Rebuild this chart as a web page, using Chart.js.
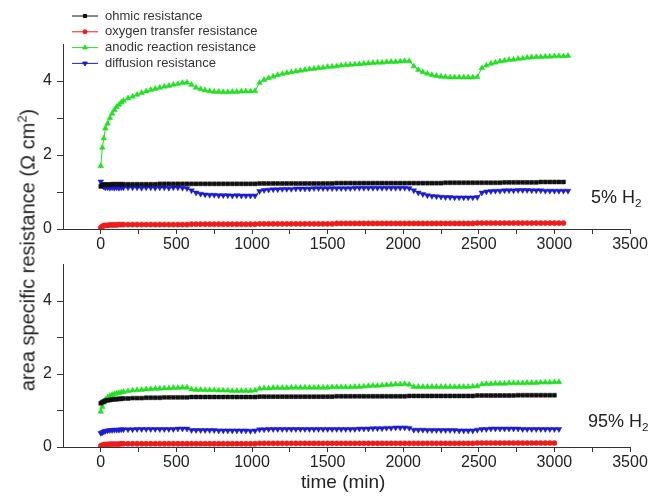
<!DOCTYPE html>
<html>
<head>
<meta charset="utf-8">
<script src="https://cdn.jsdelivr.net/npm/chart.js@4.4.1/dist/chart.umd.min.js"></script>
<style>
  body { margin: 0; background: #fff; font-family: "Liberation Sans", Arial, sans-serif; }
  #wrap { position: relative; width: 653px; height: 499px; overflow: hidden; }
  canvas { position: absolute; left: 0; }
  .lbl { position: absolute; color: #222; white-space: nowrap; }
  .lbl sub { font-size: 65%; vertical-align: -0.35em; }
  .lbl sup { font-size: 65%; vertical-align: 0.6em; line-height: 0; }
</style>
</head>
<body>
<div id="wrap">
  <canvas id="topChart" width="653" height="250" style="top:0"></canvas>
  <canvas id="botChart" width="653" height="249" style="top:250px"></canvas>
  <div class="lbl" id="yTitle" style="font-size:20px; left:28px; top:250px; transform: translate(-50%, -50%) rotate(-90deg);">area specific resistance (&Omega; cm<sup>2</sup>)</div>
  <div class="lbl" style="font-size:19px; left:301px; top:471px;">time (min)</div>
  <div class="lbl" style="font-size:18px; left:591px; top:187px;">5% H<sub>2</sub></div>
  <div class="lbl" style="font-size:18px; left:588px; top:411px;">95% H<sub>2</sub></div>
</div>
<script>
/*******************************************************
 * data
 *******************************************************/
const seriesNames = ["ohmic resistance", "oxygen transfer resistance", "anodic reaction resistance", "diffusion resistance"];
const xTicks = [0, 500, 1000, 1500, 2000, 2500, 3000, 3500];
const yTicks = [0, 2, 4];

const timesTop = [0,10,20,30,45,60,75,90,105,120,135,150,
  180,210,240,270,300,330,360,390,420,450,480,510,540,570,
  600,630,660,690,720,750,780,810,840,870,900,930,960,990,1020,
  1050,1080,1110,1140,1170,1200,1230,1260,1290,1320,1350,1380,1410,1440,1470,1500,1530,1560,1590,1620,1650,1680,1710,1740,1770,1800,1830,1860,1890,1920,1950,1980,2010,2040,
  2070,2100,2130,2160,2190,2220,2250,2280,2310,2340,2370,2400,2430,2460,2490,
  2520,2550,2580,2610,2640,2670,2700,2730,2760,2790,2820,2850,2880,2910,2940,2970,3000,3030,3060,3090];

const timesBot = [0,10,20,30,45,60,75,90,105,120,135,150,
  180,210,240,270,300,330,360,390,420,450,480,510,540,570,
  600,630,660,690,720,750,780,810,840,870,900,930,960,990,1020,
  1050,1080,1110,1140,1170,1200,1230,1260,1290,1320,1350,1380,1410,1440,1470,1500,1530,1560,1590,1620,1650,1680,1710,1740,1770,1800,1830,1860,1890,1920,1950,1980,2010,2040,
  2070,2100,2130,2160,2190,2220,2250,2280,2310,2340,2370,2400,2430,2460,2490,
  2520,2550,2580,2610,2640,2670,2700,2730,2760,2790,2820,2850,2880,2910,2940,2970,3000,3030];

// 5% H2 panel
const ohmicTop = [1.15,1.19,1.20,1.20,1.20,1.20,1.21,1.21,1.21,1.21,1.21,1.21,
  1.21,1.21,1.21,1.21,1.21,1.21,1.21,1.22,1.22,1.22,1.22,1.22,1.22,1.22,
  1.22,1.22,1.22,1.22,1.22,1.22,1.22,1.22,1.22,1.22,1.22,1.22,1.22,1.22,1.22,
  1.23,1.23,1.23,1.23,1.23,1.23,1.23,1.23,1.23,1.23,1.23,1.23,1.23,1.23,1.23,1.23,1.23,1.24,1.24,1.24,1.24,1.24,1.24,1.24,1.24,1.24,1.24,1.24,1.24,1.24,1.24,1.24,1.24,
  1.24,1.24,1.24,1.24,1.24,1.24,1.24,1.24,1.25,1.25,1.25,1.25,1.25,1.25,1.25,
  1.25,1.25,1.25,1.25,1.25,1.25,1.26,1.26,1.26,1.26,1.26,1.26,1.26,1.26,1.27,1.27,1.27,1.27,1.27,1.27];
const oxygenTop = [0.04,0.07,0.09,0.10,0.10,0.11,0.11,0.11,0.11,0.12,0.12,0.12,
  0.12,0.12,0.12,0.12,0.12,0.12,0.12,0.12,0.12,0.12,0.12,0.12,0.12,0.12,
  0.13,0.13,0.13,0.13,0.13,0.13,0.13,0.13,0.13,0.13,0.13,0.13,0.13,0.13,0.13,
  0.14,0.14,0.14,0.14,0.14,0.14,0.14,0.14,0.14,0.14,0.14,0.14,0.14,0.14,0.14,0.14,0.14,0.15,0.15,0.15,0.15,0.15,0.15,0.15,0.15,0.15,0.15,0.15,0.15,0.15,0.15,0.15,0.15,
  0.15,0.15,0.15,0.15,0.15,0.15,0.15,0.15,0.15,0.15,0.15,0.15,0.15,0.15,0.15,
  0.16,0.16,0.16,0.16,0.16,0.16,0.16,0.16,0.16,0.16,0.16,0.16,0.16,0.16,0.16,0.16,0.16,0.16,0.16,0.16];
const anodicTop = [1.70,2.20,2.45,2.72,2.85,3.00,3.12,3.22,3.30,3.36,3.42,3.47,
  3.53,3.58,3.63,3.68,3.72,3.76,3.79,3.82,3.85,3.87,3.90,3.92,3.95,3.96,
  3.90,3.82,3.78,3.75,3.73,3.71,3.71,3.70,3.70,3.71,3.71,3.72,3.72,3.72,3.73,
  3.95,4.03,4.08,4.12,4.16,4.19,4.22,4.24,4.26,4.28,4.30,4.32,4.33,4.35,4.36,4.38,4.39,4.40,4.42,4.43,4.44,4.45,4.46,4.47,4.48,4.49,4.50,4.50,4.51,4.52,4.52,4.53,4.54,4.54,
  4.40,4.30,4.24,4.20,4.16,4.14,4.12,4.11,4.10,4.10,4.10,4.10,4.10,4.10,4.11,
  4.35,4.42,4.47,4.50,4.53,4.55,4.57,4.58,4.60,4.61,4.63,4.64,4.65,4.65,4.66,4.66,4.67,4.67,4.67,4.68];
const diffusionTop = [1.28,1.18,1.14,1.12,1.12,1.11,1.12,1.11,1.12,1.11,1.12,1.12,
  1.12,1.12,1.12,1.11,1.12,1.12,1.11,1.12,1.12,1.11,1.12,1.12,1.11,1.10,
  1.04,0.98,0.95,0.93,0.92,0.92,0.91,0.91,0.91,0.90,0.91,0.90,0.90,0.90,0.90,
  1.02,1.05,1.06,1.07,1.07,1.08,1.08,1.08,1.09,1.09,1.09,1.09,1.10,1.10,1.10,1.10,1.10,1.10,1.10,1.10,1.10,1.11,1.11,1.11,1.11,1.11,1.11,1.11,1.11,1.11,1.11,1.11,1.11,1.10,
  1.04,0.98,0.94,0.91,0.89,0.88,0.87,0.86,0.86,0.85,0.85,0.85,0.85,0.85,0.86,
  0.98,1.01,1.02,1.03,1.03,1.04,1.04,1.04,1.05,1.05,1.05,1.04,1.04,1.04,1.03,1.03,1.03,1.03,1.03,1.03];

// 95% H2 panel
const ohmicBot = [1.20,1.23,1.25,1.27,1.28,1.29,1.30,1.31,1.31,1.32,1.32,1.33,
  1.33,1.34,1.34,1.34,1.35,1.35,1.35,1.35,1.36,1.36,1.36,1.36,1.36,1.36,
  1.37,1.37,1.37,1.37,1.37,1.37,1.37,1.37,1.37,1.37,1.37,1.37,1.37,1.37,1.37,
  1.38,1.38,1.38,1.38,1.38,1.38,1.38,1.38,1.38,1.38,1.38,1.38,1.38,1.38,1.38,1.38,1.38,1.39,1.39,1.39,1.39,1.39,1.39,1.39,1.39,1.39,1.39,1.39,1.39,1.39,1.39,1.39,1.39,
  1.40,1.40,1.40,1.40,1.40,1.40,1.40,1.40,1.40,1.40,1.40,1.40,1.40,1.40,1.40,
  1.41,1.41,1.41,1.41,1.41,1.41,1.41,1.41,1.41,1.42,1.42,1.42,1.42,1.42,1.42,1.42,1.42,1.42];
const oxygenBot = [0.03,0.05,0.06,0.07,0.07,0.08,0.08,0.08,0.08,0.08,0.09,0.09,
  0.09,0.09,0.09,0.09,0.09,0.09,0.09,0.09,0.09,0.09,0.09,0.09,0.09,0.09,
  0.09,0.09,0.09,0.09,0.09,0.09,0.09,0.09,0.09,0.09,0.09,0.09,0.09,0.09,0.09,
  0.10,0.10,0.10,0.10,0.10,0.10,0.10,0.10,0.10,0.10,0.10,0.10,0.10,0.10,0.10,0.10,0.10,0.10,0.10,0.10,0.10,0.10,0.10,0.10,0.10,0.10,0.10,0.10,0.10,0.10,0.10,0.10,0.10,
  0.10,0.10,0.10,0.10,0.10,0.10,0.10,0.10,0.10,0.10,0.10,0.10,0.10,0.10,0.10,
  0.11,0.11,0.11,0.11,0.11,0.11,0.11,0.11,0.11,0.11,0.11,0.11,0.11,0.11,0.11,0.11,0.11,0.11];
const anodicBot = [0.97,1.10,1.22,1.30,1.36,1.40,1.43,1.45,1.47,1.48,1.50,1.51,
  1.53,1.55,1.56,1.57,1.58,1.59,1.60,1.60,1.61,1.61,1.62,1.62,1.63,1.63,
  1.58,1.57,1.57,1.56,1.56,1.56,1.55,1.55,1.55,1.54,1.54,1.54,1.54,1.54,1.55,
  1.60,1.61,1.61,1.62,1.62,1.62,1.62,1.63,1.63,1.63,1.63,1.63,1.63,1.63,1.63,1.63,1.64,1.64,1.64,1.64,1.64,1.65,1.65,1.66,1.67,1.68,1.68,1.69,1.70,1.71,1.72,1.72,1.73,1.71,
  1.65,1.65,1.65,1.65,1.65,1.65,1.65,1.65,1.65,1.65,1.65,1.65,1.65,1.66,1.67,
  1.72,1.73,1.73,1.74,1.74,1.74,1.75,1.75,1.75,1.75,1.76,1.76,1.76,1.77,1.77,1.77,1.78,1.78];
const diffusionBot = [0.38,0.40,0.42,0.44,0.45,0.46,0.46,0.47,0.47,0.47,0.48,0.48,
  0.48,0.48,0.49,0.49,0.49,0.49,0.49,0.49,0.49,0.49,0.49,0.50,0.50,0.50,
  0.46,0.46,0.46,0.46,0.46,0.46,0.45,0.45,0.45,0.45,0.45,0.45,0.45,0.44,0.45,
  0.48,0.48,0.49,0.49,0.49,0.49,0.49,0.49,0.49,0.49,0.49,0.49,0.49,0.49,0.49,0.49,0.49,0.49,0.49,0.49,0.49,0.49,0.50,0.50,0.50,0.51,0.51,0.51,0.52,0.52,0.53,0.53,0.53,0.52,
  0.47,0.47,0.47,0.46,0.46,0.46,0.46,0.46,0.46,0.46,0.45,0.45,0.45,0.45,0.47,
  0.49,0.49,0.50,0.50,0.50,0.50,0.50,0.50,0.50,0.49,0.49,0.49,0.49,0.49,0.49,0.49,0.49,0.49];

/*******************************************************
 * styles per series
 *******************************************************/
const seriesStyle = [
  { color: "#111111", pointStyle: "rect", radius: 2.8, rotation: 0 },
  { color: "#ee1c1c", pointStyle: "circle", radius: 2.6, rotation: 0 },
  { color: "#22e022", pointStyle: "triangle", radius: 3.3, rotation: 0 },
  { color: "#1c1cd0", pointStyle: "triangle", radius: 3.3, rotation: 180 }
];

function makeDatasets(times, lists) {
  return lists.map((vals, i) => {
    const st = seriesStyle[i];
    return {
      label: seriesNames[i],
      data: vals.map((v, k) => ({ x: times[k], y: v })),
      borderColor: st.color,
      backgroundColor: st.color,
      borderWidth: 1,
      pointStyle: st.pointStyle,
      pointRadius: st.radius,
      pointRotation: st.rotation,
      pointBorderWidth: 0.5
    };
  });
}

// legend drawn as line + marker like the original plot
const lineLegend = {
  id: "lineLegend",
  afterDraw(chart) {
    const ctx = chart.ctx;
    ctx.save();
    ctx.font = "13px 'Liberation Sans', Arial, sans-serif";
    ctx.textBaseline = "middle";
    seriesNames.forEach((name, i) => {
      const st = seriesStyle[i];
      const y = 16 + i * 15.8;
      ctx.strokeStyle = st.color;
      ctx.lineWidth = 1;
      ctx.beginPath();
      ctx.moveTo(72, y);
      ctx.lineTo(98, y);
      ctx.stroke();
      ctx.fillStyle = st.color;
      ctx.strokeStyle = st.color;
      Chart.helpers.drawPoint(ctx, { pointStyle: st.pointStyle, radius: st.radius * 0.8, rotation: st.rotation, borderWidth: 0.5 }, 85, y);
      ctx.fillStyle = "#333";
      ctx.fillText(name, 105, y);
    });
    ctx.restore();
  }
};

function makeOptions(padTop, xAxisHeight) {
  const axisColor = "#333";
  const tickFont = { family: "'Liberation Sans', Arial, sans-serif", size: 16 };
  return {
    responsive: false,
    animation: false,
    layout: { padding: { top: padTop, left: 0, right: 23, bottom: 0 } },
    plugins: { legend: { display: false }, tooltip: { enabled: false } },
    scales: {
      x: {
        type: "linear",
        min: -250,
        max: 3500,
        afterBuildTicks: s => {
          const t = [];
          for (let v = 0; v <= 3500; v += 250) t.push({ value: v });
          s.ticks = t;
        },
        afterFit: s => { s.height = xAxisHeight; },
        ticks: {
          color: "#222",
          font: tickFont,
          padding: 1,
          maxRotation: 0,
          autoSkip: false,
          callback: v => (xTicks.includes(v) ? String(v) : "")
        },
        grid: { drawOnChartArea: false, drawTicks: true, tickLength: 5, color: axisColor },
        border: { display: true, color: axisColor, width: 1 }
      },
      y: {
        min: 0,
        max: 5,
        afterBuildTicks: s => { s.ticks = [0, 1, 2, 3, 4].map(v => ({ value: v })); },
        afterFit: s => { s.width = 63; },
        ticks: {
          color: "#222",
          font: tickFont,
          padding: 5,
          autoSkip: false,
          callback: v => (yTicks.includes(v) ? String(v) : "")
        },
        grid: { drawOnChartArea: false, drawTicks: true, tickLength: 6, color: axisColor },
        border: { display: true, color: axisColor, width: 1 }
      }
    }
  };
}

new Chart(document.getElementById("topChart"), {
  type: "line",
  data: { datasets: makeDatasets(timesTop, [ohmicTop, oxygenTop, anodicTop, diffusionTop]) },
  options: makeOptions(44, 21),
  plugins: [lineLegend]
});

new Chart(document.getElementById("botChart"), {
  type: "line",
  data: { datasets: makeDatasets(timesBot, [ohmicBot, oxygenBot, anodicBot, diffusionBot]) },
  options: makeOptions(6, 52)
});
</script>
</body>
</html>
